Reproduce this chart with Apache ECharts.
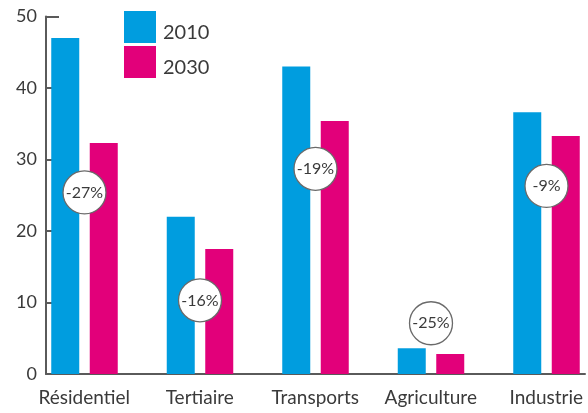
<!DOCTYPE html>
<html>
<head>
<meta charset="utf-8">
<script src="https://cdn.jsdelivr.net/npm/echarts@6/dist/echarts.min.js"></script>
<style>
  html, body { margin: 0; padding: 0; background: #fff; }
  #main { width: 588px; height: 413px; }
</style>
</head>
<body>
<div id="main"></div>
<script>
const categories = ['Résidentiel', 'Tertiaire', 'Transports', 'Agriculture', 'Industrie'];
const values2010 = [47, 22, 43, 3.6, 36.6];
const values2030 = [32.3, 17.5, 35.4, 2.8, 33.3];
const changeLabels = ['-27%', '-16%', '-19%', '-25%', '-9%'];
const changeHeights = [25.4, 10.3, 28.7, 7.1, 26.3];
const seriesNames = ['2010', '2030'];

// each group takes two slots (one per year), groups are split by an empty slot
const slots = [];
const data2010 = [];
const data2030 = [];
const badges = [];
categories.forEach(function (c, i) {
  slots.push(c, c + '#2');
  data2010.push(values2010[i], '-');
  data2030.push('-', values2030[i]);
  badges.push({ value: [slots.length - 1, changeHeights[i]], name: changeLabels[i] });
  if (i < categories.length - 1) {
    slots.push('gap' + i);
    data2010.push('-');
    data2030.push('-');
  }
});

const font = 'Lato, "Open Sans", sans-serif';
const axisColor = '#5a5a5a';
const textColor = '#3a3a3a';

const chart = echarts.init(document.getElementById('main'));
chart.setOption({
  animation: false,
  color: ['#009ddf', '#e2007a'],
  grid: { left: 46, right: 3, top: 16.5, bottom: 39 },
  legend: {
    data: seriesNames,
    orient: 'vertical',
    left: 119,
    top: 6,
    itemWidth: 32,
    itemHeight: 32,
    itemGap: 3,
    icon: 'rect',
    formatter: function (name) { return '{t|' + name + '}'; },
    textStyle: {
      fontFamily: font, fontSize: 20, color: textColor,
      rich: { t: { fontFamily: font, fontSize: 20, color: textColor, padding: [12, 0, 0, 2] } }
    }
  },
  xAxis: [{
    type: 'category',
    data: slots,
    boundaryGap: true,
    axisLine: { lineStyle: { color: axisColor, width: 2 } },
    axisTick: {
      inside: true,
      length: 8,
      lineStyle: { color: axisColor, width: 2 },
      interval: function (i) { return i % 3 === 2 || (i % 3 === 0 && i > 0); }
    },
    axisLabel: {
      interval: function (i) { return i % 3 === 0; },
      formatter: function (v) { return v; },
      padding: [0, 0, 0, 38],
      margin: 14,
      fontFamily: font,
      fontSize: 19,
      color: textColor
    }
  }, {
    type: 'value',
    min: 0,
    max: slots.length,
    show: false
  }],
  yAxis: {
    type: 'value',
    min: 0,
    max: 50,
    interval: 10,
    axisLine: { show: true, lineStyle: { color: axisColor, width: 2 } },
    axisTick: { show: true, inside: true, length: 13, lineStyle: { color: axisColor, width: 2 } },
    splitLine: { show: false },
    axisLabel: { margin: 9, fontFamily: font, fontSize: 18, color: textColor }
  },
  series: [{
    name: seriesNames[0],
    type: 'bar',
    data: data2010,
    barWidth: 28,
    barGap: '-100%'
  }, {
    name: seriesNames[1],
    type: 'bar',
    data: data2030,
    barWidth: 28,
    barGap: '-100%'
  }, {
    type: 'scatter',
    xAxisIndex: 1,
    data: badges,
    symbol: 'circle',
    symbolSize: 43,
    z: 5,
    itemStyle: { color: '#fff', borderColor: '#6a6a6a', borderWidth: 1.3, opacity: 1 },
    label: {
      show: true,
      position: 'inside',
      formatter: '{b}',
      fontFamily: font,
      fontSize: 16,
      color: textColor
    }
  }]
});
</script>
</body>
</html>
